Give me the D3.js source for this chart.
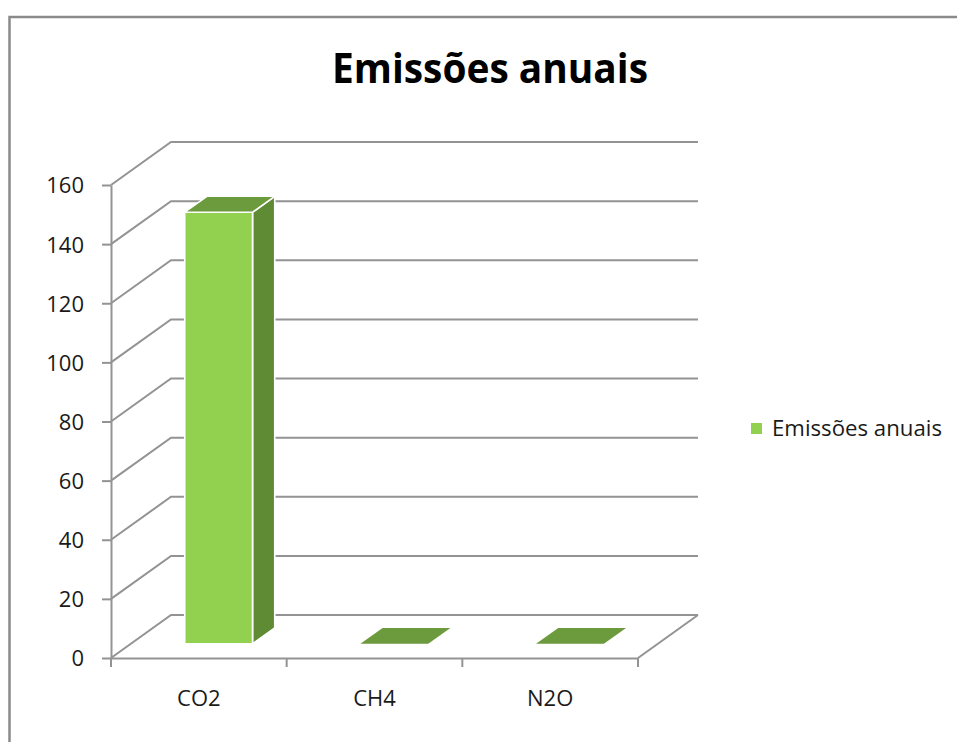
<!DOCTYPE html>
<html>
<head>
<meta charset="utf-8">
<script src="https://cdn.jsdelivr.net/npm/d3@7"></script>
<style>
  html, body { margin: 0; padding: 0; background: #fff; }
  svg { display: block; }
  text { font-family: "Open Sans", "Noto Sans", sans-serif; fill: #1a1a1a; }
</style>
</head>
<body>
<svg id="chart" width="957" height="742"></svg>
<script>
// ---- data ----
const chartTitle = "Emissões anuais";
const seriesName = "Emissões anuais";
const categories = ["CO2", "CH4", "N2O"];
const values = [146, 0, 0];
const yTicks = [0, 20, 40, 60, 80, 100, 120, 140, 160];

// ---- layout ----
const W = 957, H = 742;
const svg = d3.select("#chart");
const front = { left: 111, right: 638, bottom: 658, top: 185 };
const depth = { dx: 60, dy: -43 };          // full depth offset of the 3D box
const barDepth = [0.33, 0.70];              // bar occupies this part of depth
const gridColor = "#939393";

const y = d3.scaleLinear().domain([0, 160]).range([front.bottom, front.top]);
const x = d3.scaleBand().domain(categories).range([front.left, front.right]).padding(0);
const xb = d3.scaleBand().domain(categories).range([front.left, front.right])
  .paddingInner(0.614).paddingOuter(0.307);

const off = f => [depth.dx * f, depth.dy * f];

// outer border
svg.append("rect")
  .attr("x", 9.5).attr("y", 17).attr("width", W + 20).attr("height", H + 20)
  .attr("fill", "none").attr("stroke", "#8a8a8a").attr("stroke-width", 2.5);

// title
svg.append("text")
  .attr("x", 490).attr("y", 83)
  .attr("text-anchor", "middle")
  .attr("font-size", 42).attr("font-weight", "bold")
  .attr("textLength", 316).attr("lengthAdjust", "spacingAndGlyphs")
  .style("fill", "#000")
  .text(chartTitle);

const g = svg.append("g");
const [bx, by] = off(1);

// back wall gridlines + left wall diagonals
yTicks.forEach(t => {
  const yy = y(t);
  g.append("path")
    .attr("d", `M${front.left},${yy} L${front.left + bx},${yy + by} L${front.right + bx},${yy + by}`)
    .attr("fill", "none").attr("stroke", gridColor).attr("stroke-width", 2);
});

// floor right edge
g.append("line")
  .attr("x1", front.right).attr("y1", y(0))
  .attr("x2", front.right + bx).attr("y2", y(0) + by)
  .attr("stroke", gridColor).attr("stroke-width", 2);

// value axis
const yAxis = d3.axisLeft(y).tickValues(yTicks).tickSize(9).tickPadding(18).tickSizeOuter(0);
const ya = svg.append("g").attr("transform", `translate(${front.left},0)`).call(yAxis);
ya.select(".domain").attr("stroke", gridColor).attr("stroke-width", 2);
ya.selectAll(".tick line").attr("stroke", gridColor).attr("stroke-width", 2);
ya.selectAll(".tick text")
  .attr("font-size", 22).attr("font-family", "'Open Sans', sans-serif")
  .style("fill", "#1a1a1a").attr("dy", "0.36em");

// category axis
const xAxis = d3.axisBottom(x).tickSize(0).tickPadding(32).tickSizeOuter(0);
const xa = svg.append("g").attr("transform", `translate(0,${front.bottom})`).call(xAxis);
xa.select(".domain").attr("stroke", gridColor).attr("stroke-width", 2);
xa.selectAll(".tick text")
  .attr("font-size", 22).attr("font-family", "'Open Sans', sans-serif")
  .style("fill", "#1a1a1a");
// boundary tick marks between categories
const bounds = categories.map(c => x(c)).concat([x(categories[categories.length - 1]) + x.bandwidth()]);
xa.selectAll(".bound").data(bounds).join("line")
  .attr("class", "bound")
  .attr("x1", d => d).attr("x2", d => d)
  .attr("y1", 0).attr("y2", 9)
  .attr("stroke", gridColor).attr("stroke-width", 2);

// 3D bars
const [fx0, fy0] = off(barDepth[0]);
const [fx1, fy1] = off(barDepth[1]);
const sdx = fx1 - fx0, sdy = fy1 - fy0;
const bars = svg.append("g");
categories.forEach((c, i) => {
  const xl = xb(c) + fx0, xr = xb(c) + xb.bandwidth() + fx0;
  const yt = y(values[i]) + fy0, yb = y(0) + fy0;
  const grp = bars.append("g").attr("stroke", "#fff").attr("stroke-width", 1.6).attr("stroke-linejoin", "round");
  if (yb - yt > 0.5) {
    // side face
    grp.append("path")
      .attr("d", `M${xr},${yt} L${xr + sdx},${yt + sdy} L${xr + sdx},${yb + sdy} L${xr},${yb} Z`)
      .attr("fill", "#5f8b35");
    // front face
    grp.append("path")
      .attr("d", `M${xl},${yt} L${xr},${yt} L${xr},${yb} L${xl},${yb} Z`)
      .attr("fill", "#92d050");
  }
  // top face
  grp.append("path")
    .attr("d", `M${xl},${yt} L${xr},${yt} L${xr + sdx},${yt + sdy} L${xl + sdx},${yt + sdy} Z`)
    .attr("fill", "#6b9b3c")
    .attr("stroke", (yb - yt > 0.5) ? "#fff" : "none");
});

// legend
const lg = svg.append("g").attr("transform", "translate(751,423)");
lg.append("rect").attr("width", 11).attr("height", 11).attr("fill", "#92d050");
lg.append("text").attr("x", 21).attr("y", 13)
  .attr("font-size", 21)
  .attr("textLength", 170).attr("lengthAdjust", "spacingAndGlyphs")
  .style("fill", "#1a1a1a")
  .text(seriesName);
</script>
</body>
</html>
